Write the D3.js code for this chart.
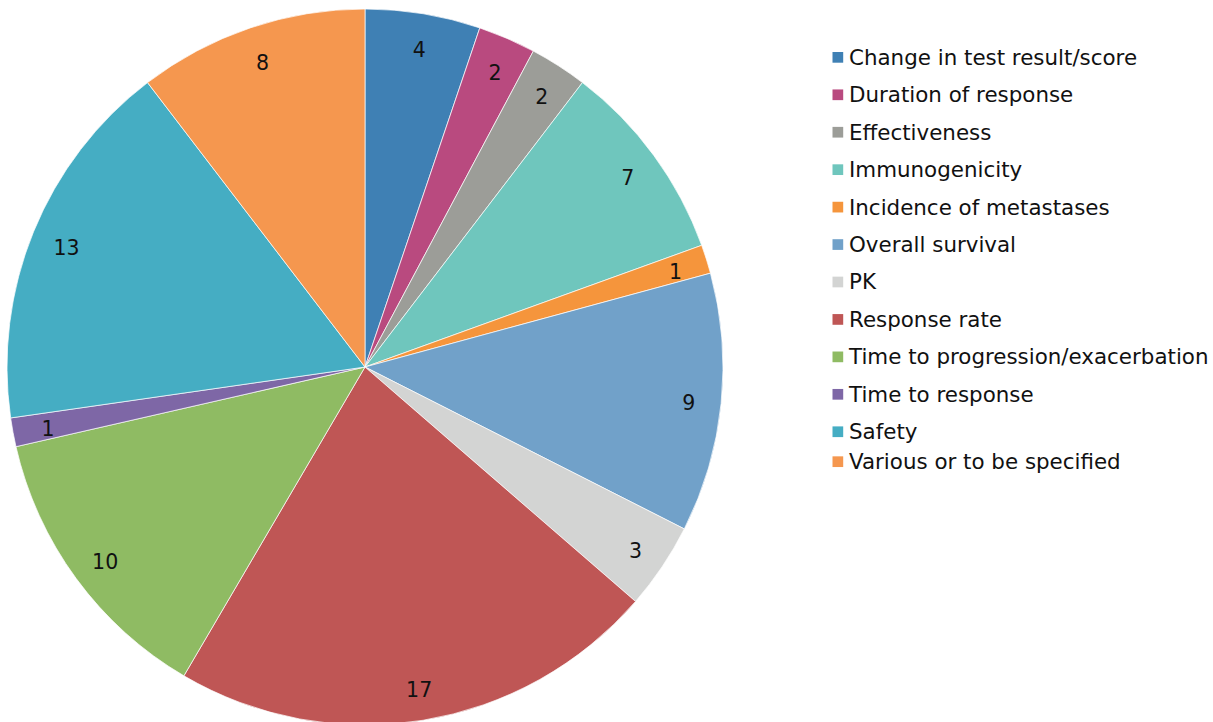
<!DOCTYPE html>
<html><head><meta charset="utf-8">
<script src="https://cdn.jsdelivr.net/npm/d3@7"></script>
<style>html,body{margin:0;padding:0;background:#fff;overflow:hidden}</style>
</head><body>
<svg id="c" width="1213" height="722"></svg>
<script>
const categories = ["Change in test result/score","Duration of response","Effectiveness","Immunogenicity","Incidence of metastases","Overall survival","PK","Response rate","Time to progression/exacerbation","Time to response","Safety","Various or to be specified"];
const values = [4,2,2,7,1,9,3,17,10,1,13,8];
const colors = ["#3f80b4","#b94a7f","#9c9d98","#6fc6bd","#f5953c","#71a1c9","#d3d4d3","#bf5655","#8fbb63","#7e67a6","#45adc3","#f5974f"];

const svg = d3.select("#c");
const cx = 365, cy = 367, R = 358, LR = 324;
const data = categories.map((c,i)=>({cat:c, value:values[i], color:colors[i], i}));
const pie = d3.pie().value(d=>d.value).sort(null);
const arcs = pie(data);
const arc = d3.arc().innerRadius(0).outerRadius(R);
const labelArc = d3.arc().innerRadius(LR).outerRadius(LR);
const g = svg.append("g").attr("transform",`translate(${cx},${cy})`);
g.selectAll("path").data(arcs).join("path")
  .attr("d",arc).attr("fill",d=>d.data.color)
  .attr("stroke","#fff").attr("stroke-width",0.7);
g.selectAll("text").data(arcs).join("text")
  .attr("transform",d=>{const [x,y]=labelArc.centroid(d); return `translate(${x+1.5},${y+3})`;})
  .attr("text-anchor","middle").attr("dominant-baseline","central")
  .attr("font-family","DejaVu Sans, Verdana, sans-serif").attr("font-size",20.5)
  .attr("fill","#111").text(d=>d.data.value);

const rowY = i => 57.3 + 37.44*i - (i===11 ? 7.5 : 0);
const lg = svg.append("g");
const items = lg.selectAll("g").data(data).join("g")
  .attr("transform",d=>`translate(832.5,${rowY(d.i)})`);
items.append("rect").attr("x",0).attr("y",-5.3).attr("width",10.7).attr("height",10.7).attr("fill",d=>d.color);
items.append("text").attr("x",16.5).attr("y",0).attr("dominant-baseline","central")
  .attr("font-family","DejaVu Sans, Verdana, sans-serif").attr("font-size",21.4)
  .attr("fill","#111").text(d=>d.cat);
</script>
</body></html>
